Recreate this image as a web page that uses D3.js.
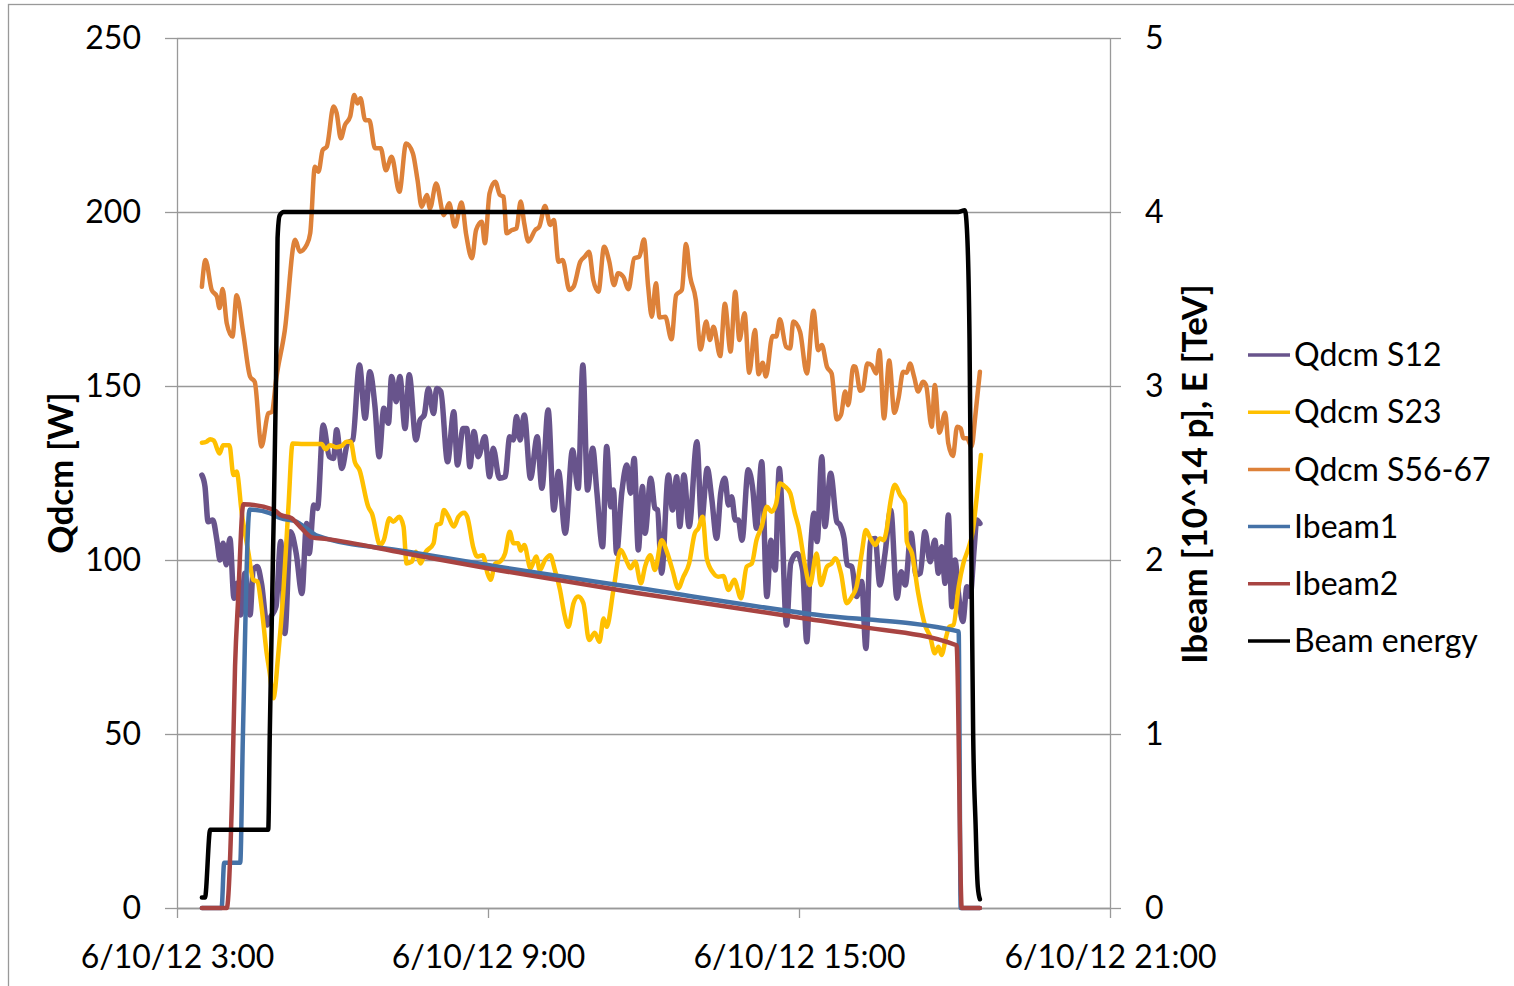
<!DOCTYPE html>
<html>
<head>
<meta charset="utf-8">
<script src="https://cdn.jsdelivr.net/npm/d3@7"></script>
<style>
  body { margin: 0; background: #fff; }
  text { font-family: Lato, 'Open Sans', sans-serif; }
</style>
</head>
<body>
<script>
// [hour of 6/10/12, value]
const qdcmS12 = [[3.48,124.4],[3.54,121.1],[3.60,111],[3.69,111.5],[3.77,105.7],[3.83,100],[3.89,104.8],[3.95,98.6],[4.02,106.2],[4.10,89],
  [4.16,93.3],[4.23,84.2],[4.31,96.2],[4.41,84.2],[4.47,97.1],[4.55,98.1],[4.63,93.3],[4.74,81.3],[4.79,83.2],[4.91,86.6],
  [5.00,105.3],[5.08,78.9],[5.19,108.1],[5.30,101.9],[5.41,90.4],[5.50,110.5],[5.55,101.9],[5.64,115.8],[5.71,114.8],[5.82,138.8],
  [5.94,129.7],[6.02,129.2],[6.08,137.4],[6.18,126.3],[6.29,133.5],[6.39,134.5],[6.52,156],[6.63,140.7],[6.72,154.1],[6.82,144],
  [6.90,129.7],[6.99,143.6],[7.08,139.3],[7.14,152.7],[7.23,145.5],[7.30,152.7],[7.40,137.8],[7.48,153.2],[7.61,134.5],[7.69,140.2],
  [7.77,141.7],[7.85,149.3],[7.95,142.1],[8.01,149.3],[8.09,148.4],[8.22,128.2],[8.34,142.6],[8.41,127.3],[8.52,137.8],[8.59,137.8],
  [8.65,126.8],[8.73,136.9],[8.81,129.7],[8.94,135.4],[9.03,123.9],[9.10,132.1],[9.22,123.5],[9.33,123.9],[9.42,135.4],[9.49,134.5],
  [9.55,141.2],[9.62,134.5],[9.70,141.7],[9.82,123.5],[9.95,135.4],[10.04,120.6],[10.16,143.1],[10.27,114.4],[10.36,125.4],[10.49,107.7],
  [10.63,131.6],[10.74,120.6],[10.83,156],[10.92,120.1],[11.02,132.1],[11.10,119.6],[11.21,103.8],[11.29,132.6],[11.37,115.3],[11.42,120.1],
  [11.48,101.9],[11.58,119.2],[11.68,127.3],[11.75,119.2],[11.82,129.2],[11.90,102.9],[11.98,121.1],[12.03,107.7],[12.14,123.5],[12.22,114.9],
  [12.27,114.4],[12.35,96.2],[12.48,124.4],[12.56,114.4],[12.64,123.9],[12.70,109.6],[12.78,124.4],[12.88,109.6],[13.03,134],[13.12,111],
  [13.23,126.3],[13.32,117.2],[13.41,106.2],[13.49,119.2],[13.57,123.5],[13.64,115.8],[13.70,118.2],[13.77,111.5],[13.83,111.5],[13.90,105.7],
  [14.02,125.9],[14.11,120.1],[14.18,109.1],[14.28,128.2],[14.38,89.5],[14.46,105.7],[14.54,97.1],[14.62,126.3],[14.76,81.3],[14.84,99],
  [14.96,101.9],[15.07,97.1],[15.15,76.5],[15.23,104.8],[15.29,113.4],[15.35,105.3],[15.44,129.7],[15.50,109.6],[15.61,124.9],[15.73,111],
  [15.79,110.1],[15.87,106.2],[15.93,98.6],[16.02,98.1],[16.11,89.5],[16.21,93.8],[16.29,74.6],[16.38,105.7],[16.47,106.2],[16.56,92.8],
  [16.66,101.9],[16.77,114.4],[16.89,89],[16.97,96.6],[17.05,92.8],[17.16,107.7],[17.26,95.7],[17.34,96.2],[17.43,108.1],[17.53,99.5],
  [17.62,105.7],[17.69,96.2],[17.75,103.8],[17.82,93.3],[17.88,112.9],[17.95,86.6],[18.01,100],[18.08,89.9],[18.16,82.3],[18.24,92.3],
  [18.30,89.5],[18.38,103.4],[18.43,111.5],[18.49,110.5]];

const qdcmS23 = [[3.48,133.7],[3.57,134],[3.64,134.7],[3.71,134.3],[3.82,130.6],[3.89,133],[4.01,133],[4.09,124.4],[4.15,125.4],[4.25,113.4],
  [4.38,101.9],[4.47,94.3],[4.55,93.8],[4.63,86.6],[4.73,73.2],[4.79,67.4],[4.86,60.3],[4.95,72.2],[5.05,90.4],[5.15,115.3],
  [5.23,133.5],[5.44,133.3],[5.79,133.3],[5.87,131.8],[5.95,133],[6.08,132.4],[6.18,132.8],[6.27,134],[6.35,134],[6.43,128.2],
  [6.52,125.9],[6.69,115.3],[6.76,113.4],[6.92,104.3],[6.99,105.7],[7.10,112],[7.17,111],[7.29,112.4],[7.37,109.6],[7.43,99],
  [7.53,99.5],[7.61,102.4],[7.70,99],[7.78,101.9],[7.95,104.8],[8.01,110.1],[8.09,110.5],[8.15,114.4],[8.23,112.6],[8.34,109.6],
  [8.43,112.4],[8.54,113.6],[8.60,112.4],[8.72,103.4],[8.79,101],[8.90,101.4],[8.99,96.2],[9.05,94.3],[9.14,99],[9.23,99.5],
  [9.33,101.9],[9.42,108.1],[9.49,104.8],[9.58,104.8],[9.63,102.7],[9.70,104.3],[9.82,97.6],[9.93,101],[10.00,97.1],[10.10,100],
  [10.20,101.4],[10.29,97.1],[10.39,91.4],[10.47,84.7],[10.55,80.8],[10.65,87.6],[10.74,89.5],[10.84,87.6],[10.95,77],[11.06,79.1],
  [11.15,76.5],[11.23,83.2],[11.29,80.8],[11.42,91.4],[11.56,102.9],[11.68,99.5],[11.75,97.6],[11.84,99.5],[11.95,93.3],[12.03,98.1],
  [12.13,101.4],[12.22,97.1],[12.35,105.7],[12.45,102.4],[12.56,97.1],[12.67,91.9],[12.77,95.2],[12.88,99],[12.99,107.7],[13.06,109.1],
  [13.14,112.4],[13.22,100.5],[13.35,96.2],[13.44,95.2],[13.54,95.4],[13.64,91.4],[13.75,94.3],[13.88,89],[13.99,98.1],[14.09,99],
  [14.18,105.7],[14.28,109.6],[14.38,115.3],[14.47,113.9],[14.56,116.3],[14.63,122],[14.73,121.1],[14.83,119.2],[14.92,113.4],[14.99,109.6],
  [15.12,98.1],[15.21,92.8],[15.34,101.9],[15.42,92.8],[15.54,98.1],[15.63,99],[15.70,100.5],[15.81,96.2],[15.92,87.6],[16.02,89.5],
  [16.11,92.3],[16.21,101.9],[16.29,108.6],[16.38,106.2],[16.47,104.3],[16.56,106.2],[16.63,105.7],[16.69,108.6],[16.76,116.3],[16.85,121.6],
  [16.95,118.7],[17.05,116.3],[17.08,105.3],[17.18,101.9],[17.30,90.4],[17.43,81.3],[17.53,78],[17.62,73.2],[17.69,75.1],[17.75,72.7],
  [17.84,78],[17.90,80.8],[17.98,81.3],[18.08,92.3],[18.17,99],[18.27,103.4],[18.35,108.1],[18.43,118.2],[18.51,130.2]];

const qdcmS5667 = [[3.48,178.5],[3.55,186.2],[3.67,177.6],[3.77,175.7],[3.82,172.4],[3.88,177.9],[3.96,168],[4.07,164.2],[4.15,176.1],[4.28,165],
  [4.41,152.7],[4.50,151.2],[4.63,132.6],[4.76,142.1],[4.83,142.6],[4.92,152.7],[5.08,166],[5.28,192],[5.37,188.6],[5.50,190.5],
  [5.57,193.9],[5.66,213],[5.73,211.6],[5.81,217.8],[5.89,218.8],[6.02,230.3],[6.08,228.4],[6.16,221.2],[6.24,225],[6.34,227.4],
  [6.42,233.6],[6.48,231.2],[6.54,232.7],[6.63,226.4],[6.71,226.4],[6.82,218.3],[6.93,218.3],[7.03,212],[7.14,215.9],[7.29,205.8],
  [7.42,219.7],[7.55,216.9],[7.64,209.2],[7.72,201.5],[7.82,204.9],[7.88,201],[8.00,208.2],[8.15,199.1],[8.25,202.5],[8.36,195.8],
  [8.49,202.7],[8.58,193.4],[8.69,186.7],[8.77,194.8],[8.88,197.2],[8.94,191],[9.03,205.4],[9.14,208.7],[9.23,204.9],[9.30,204.4],
  [9.36,193.9],[9.46,194.8],[9.55,195.3],[9.63,203],[9.70,196.7],[9.78,191.5],[9.91,194.8],[9.99,195.8],[10.10,201.7],[10.20,196.3],
  [10.27,197.7],[10.36,185.7],[10.44,186.2],[10.57,177.6],[10.65,178.5],[10.78,185.7],[10.87,187.2],[10.95,188.6],[11.03,180.5],[11.13,177.1],
  [11.24,190],[11.34,185.7],[11.43,179],[11.51,182.4],[11.61,181.4],[11.71,177.8],[11.82,186.7],[11.92,187.2],[12.01,192.1],[12.09,178.5],
  [12.16,169.9],[12.24,179.5],[12.31,169.7],[12.42,169.9],[12.54,163.4],[12.63,176.1],[12.74,177.6],[12.82,190.8],[12.90,181.4],[13.01,174.7],
  [13.10,160.5],[13.21,168.5],[13.28,163.2],[13.35,167],[13.48,158.6],[13.57,173.6],[13.68,159.9],[13.77,177.1],[13.85,163.2],[13.95,170.9],
  [14.04,153.8],[14.15,166.1],[14.22,153.4],[14.30,156.7],[14.36,152.7],[14.49,164.4],[14.56,164.2],[14.63,169.2],[14.75,161.3],[14.83,160.8],
  [14.89,168.5],[15.02,165.6],[15.15,153.6],[15.28,171.6],[15.37,160.3],[15.44,161.8],[15.54,155.5],[15.63,153.6],[15.73,140.4],[15.81,141.7],
  [15.89,148.4],[15.95,144.5],[16.05,155.7],[16.09,155.5],[16.18,148.6],[16.23,149],[16.32,156.5],[16.40,156],[16.49,153.6],[16.55,160.3],
  [16.64,140.7],[16.74,157.3],[16.84,142.3],[16.92,146.5],[17.01,154.1],[17.08,153.8],[17.14,156.5],[17.22,152.7],[17.30,148.4],[17.39,151.2],
  [17.45,150.3],[17.56,138.3],[17.62,150.3],[17.71,136.6],[17.82,142.3],[17.88,133.5],[17.97,129.9],[18.05,138.3],[18.12,137.8],[18.17,135],
  [18.24,135],[18.33,132.6],[18.40,141.2],[18.49,154.1]];

const ibeam1 = [[3.48,0],[3.86,0],[3.91,0.26],[4.22,0.26],[4.27,0.97],[4.40,2.29],[4.79,2.27],[5.00,2.24],[5.31,2.22],[5.50,2.18],
  [5.70,2.14],[7.40,2.05],[9.23,1.96],[11.87,1.84],[15.21,1.69],[18.08,1.59],[18.12,0],[18.49,0]];

const ibeam2 = [[3.48,0],[3.96,0],[4.06,0.62],[4.12,1.39],[4.18,1.78],[4.28,2.32],[4.86,2.29],[4.99,2.26],[5.21,2.24],[5.41,2.18],
  [5.60,2.13],[5.89,2.12],[7.37,2.04],[9.23,1.94],[11.87,1.81],[15.21,1.66],[16.11,1.62],[18.04,1.51],[18.14,0],[18.49,0]];

const beamEnergy = [[3.48,0.06],[3.54,0.06],[3.64,0.45],[4.76,0.45],[4.79,1.0],[4.85,2.0],[4.91,3.03],[4.94,3.85],[4.98,3.98],[5.06,4.0],
  [18.07,4.0],[18.20,4.01],[18.24,3.9],[18.29,3.26],[18.32,2.2],[18.36,1.0],[18.41,0.45],[18.43,0.24],[18.45,0.12],[18.49,0.05]];

const leftTicks = [0, 50, 100, 150, 200, 250];
const rightTicks = [0, 1, 2, 3, 4, 5];
const timeTicks = [3, 9, 15, 21];

const SERIES = [
  { name: 'Qdcm S12', data: qdcmS12, axis: 'L', color: '#68548c', width: 5.5 },
  { name: 'Qdcm S23', data: qdcmS23, axis: 'L', color: '#ffc000', width: 4.5 },
  { name: 'Qdcm S56-67', data: qdcmS5667, axis: 'L', color: '#dd8139', width: 4.5 },
  { name: 'Ibeam1', data: ibeam1, axis: 'R', color: '#4572a7', width: 4.5 },
  { name: 'Ibeam2', data: ibeam2, axis: 'R', color: '#a84442', width: 4.5 },
  { name: 'Beam energy', data: beamEnergy, axis: 'R', color: '#000000', width: 4.5 }
];

const [W, H] = [1514, 986];
const PLOT = { left: 177, right: 1110, top: 38, bottom: 908 };
const GRID = '#999999';
const FS = 32;

const day = new Date(2012, 5, 10);
const toDate = h => new Date(day.getTime() + h * 3600000);

const svg = d3.select('body').append('svg').attr('width', W).attr('height', H);

// chart border
svg.append('rect')
    .attr('x', 8.5).attr('y', 4.5)
    .attr('width', 1600).attr('height', 1100)
    .attr('fill', 'none').attr('stroke', GRID).attr('stroke-width', 1.3);

const x = d3.scaleTime()
    .domain([toDate(3), toDate(21)])
    .range([PLOT.left, PLOT.right]);
const yL = d3.scaleLinear().domain([0, 250]).range([PLOT.bottom, PLOT.top]);
const yR = d3.scaleLinear().domain([0, 5]).range([PLOT.bottom, PLOT.top]);

// gridlines
svg.append('g')
    .attr('transform', 'translate(' + PLOT.left + ',0)')
    .call(d3.axisLeft(yL).tickValues(leftTicks).tickSize(-(PLOT.right - PLOT.left)).tickFormat(''))
    .call(g => g.select('.domain').remove())
    .call(g => g.selectAll('line').attr('stroke', GRID).attr('stroke-width', 1.3));

function styleAxis(g) {
    g.select('.domain').attr('stroke', GRID).attr('stroke-width', 1.3);
    g.selectAll('.tick line').attr('stroke', GRID).attr('stroke-width', 1.3);
    g.selectAll('text').attr('fill', '#000').style('font-size', FS + 'px').style('font-family', null);
}

svg.append('g')
    .attr('transform', 'translate(' + PLOT.left + ',0)')
    .call(d3.axisLeft(yL).tickValues(leftTicks).tickSize(12).tickSizeOuter(0).tickPadding(24))
    .call(styleAxis);

svg.append('g')
    .attr('transform', 'translate(' + PLOT.right + ',0)')
    .call(d3.axisRight(yR).tickValues(rightTicks).tickSize(11).tickSizeOuter(0).tickPadding(24)
        .tickFormat(d3.format('d')))
    .call(styleAxis);

svg.append('g')
    .attr('transform', 'translate(0,' + PLOT.bottom + ')')
    .call(d3.axisBottom(x)
        .tickValues(timeTicks.map(toDate))
        .tickSize(10).tickSizeOuter(0).tickPadding(27)
        .tickFormat(d3.timeFormat('%-m/%-d/%y %-H:%M')))
    .call(styleAxis);

// axis titles
svg.append('text')
    .attr('transform', 'translate(61,' + (PLOT.top + PLOT.bottom) / 2 + ') rotate(-90)')
    .attr('text-anchor', 'middle').attr('dy', '0.35em')
    .style('font-size', '35px').style('font-weight', 'bold')
    .text('Qdcm [W]');

svg.append('text')
    .attr('transform', 'translate(1195,' + ((PLOT.top + PLOT.bottom) / 2 + 1) + ') rotate(-90)')
    .attr('text-anchor', 'middle').attr('dy', '0.35em')
    .style('font-size', '35px').style('font-weight', 'bold')
    .text('Ibeam [10^14 p], E [TeV]');

// series
SERIES.forEach(s => {
    const y = s.axis === 'L' ? yL : yR;
    const line = d3.line()
        .x(d => x(toDate(d[0])))
        .y(d => y(d[1]))
        .curve(d3.curveMonotoneX);
    svg.append('path')
        .datum(s.data)
        .attr('fill', 'none')
        .attr('stroke', s.color)
        .attr('stroke-width', s.width)
        .attr('stroke-linejoin', 'round')
        .attr('stroke-linecap', 'round')
        .attr('d', line);
});

// legend
const legend = svg.append('g').attr('transform', 'translate(1248,355)');
SERIES.forEach((s, i) => {
    const row = legend.append('g').attr('transform', 'translate(0,' + i * 57.2 + ')');
    row.append('line')
        .attr('x1', 0).attr('x2', 42)
        .attr('stroke', s.color).attr('stroke-width', 3.5);
    row.append('text')
        .attr('x', 46).attr('dy', '0.35em')
        .style('font-size', FS + 'px')
        .text(s.name);
});
</script>
</body>
</html>
